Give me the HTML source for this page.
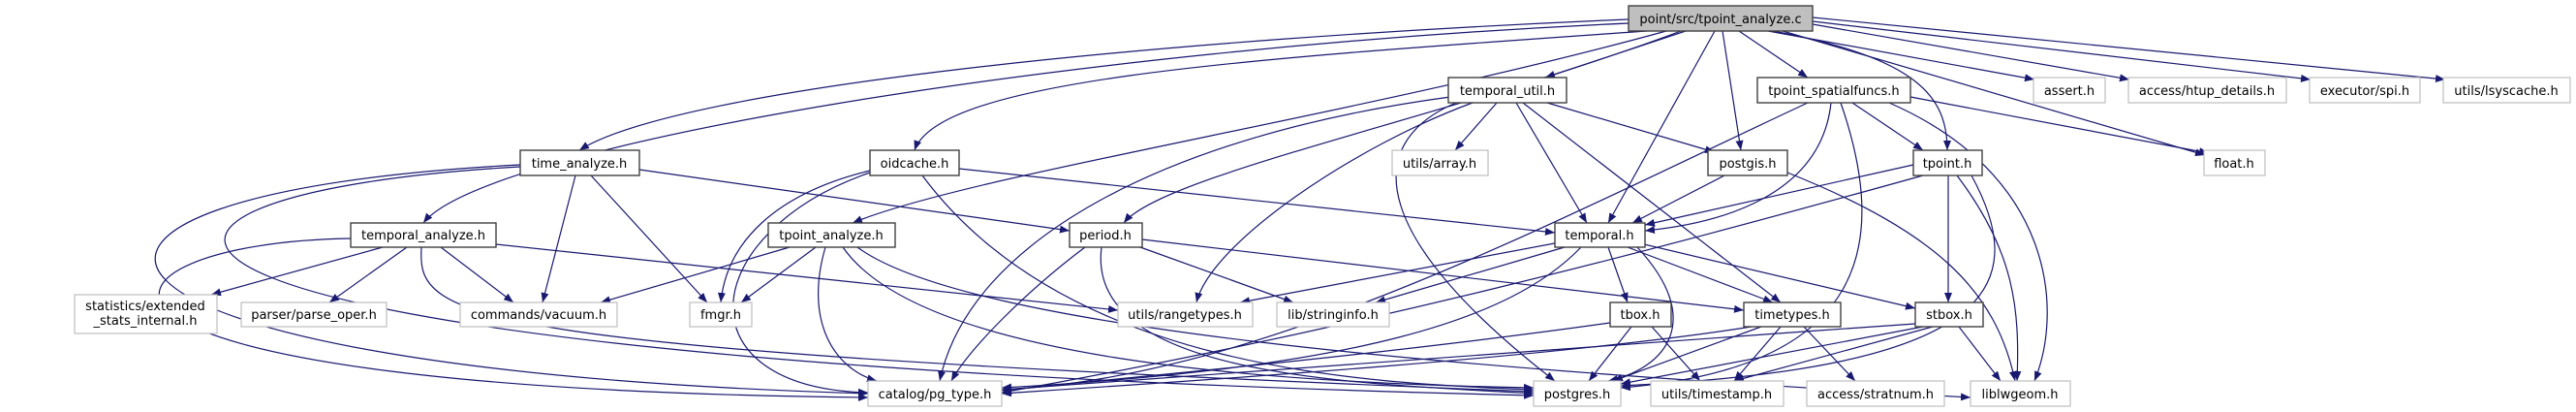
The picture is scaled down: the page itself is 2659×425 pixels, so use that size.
<!DOCTYPE html>
<html><head><meta charset="utf-8"><style>
html,body{margin:0;padding:0;background:#fff;}
svg{display:block;}
text{font-family:"DejaVu Sans","Liberation Sans",sans-serif;font-size:13px;fill:#000;text-anchor:middle;}
.e{fill:none;stroke:#191970;stroke-width:1.2;marker-end:url(#a);}
.n{fill:#fff;stroke:#404040;stroke-width:1.4;}
.x{fill:#fff;stroke:#bfbfbf;stroke-width:1.2;}
</style></head><body>
<svg width="2659" height="425" viewBox="0 0 2659 425" xmlns="http://www.w3.org/2000/svg">
<defs><marker id="a" markerUnits="userSpaceOnUse" markerWidth="11" markerHeight="9" refX="10" refY="4" orient="auto"><path d="M0,0 L10,4 L0,8 z" fill="#191970"/></marker></defs>
<g>
<path class="e" d="M1681,20 C1200,40 700,90 598,155"/>
<path class="e" d="M1681,24 C1100,50 500,150 437,230"/>
<path class="e" d="M1700,32 C1300,60 970,80 944,155"/>
<path class="e" d="M1720,32 C1400,120 1000,180 880,230"/>
<path class="e" d="M1735,32 C1500,120 1200,180 1160,230"/>
<path class="e" d="M1740,32 L1595,80"/>
<path class="e" d="M1770,32 L1660,230"/>
<path class="e" d="M1778,32 L1797,155"/>
<path class="e" d="M1795,32 L1866,80"/>
<path class="e" d="M1830,32 C1980,60 2010,100 2010,155"/>
<path class="e" d="M1825,32 L2100,82"/>
<path class="e" d="M1871,25 L2198,82"/>
<path class="e" d="M1871,22 L2385,82"/>
<path class="e" d="M1871,18 L2524,82"/>
<path class="e" d="M1840,32 L2276,160"/>
<path class="e" d="M1545,106 L1502,155"/>
<path class="e" d="M1597,106 L1770,157"/>
<path class="e" d="M1565,106 L1638,230"/>
<path class="e" d="M1572,106 L1838,312"/>
<path class="e" d="M1520,106 C1400,150 1250,250 1235,312"/>
<path class="e" d="M1503,106 C1400,150 1420,250 1605,393"/>
<path class="e" d="M1497,100 C1200,140 1000,250 970,393"/>
<path class="e" d="M1912,106 L1985,155"/>
<path class="e" d="M1890,106 C1880,200 1780,230 1698,238"/>
<path class="e" d="M1866,106 C1600,230 1300,390 1034,402"/>
<path class="e" d="M1972,100 L2280,158"/>
<path class="e" d="M1950,106 C2120,180 2130,320 2100,393"/>
<path class="e" d="M1900,106 C1950,250 1930,380 1673,400"/>
<path class="e" d="M1780,181 L1685,230"/>
<path class="e" d="M1845,178 C2000,240 2060,300 2080,393"/>
<path class="e" d="M1975,170 L1698,232"/>
<path class="e" d="M2011,181 L2011,312"/>
<path class="e" d="M2020,181 C2080,260 2085,320 2082,393"/>
<path class="e" d="M2035,181 C2100,300 2050,380 1673,398"/>
<path class="e" d="M1985,181 C1700,260 1400,340 1034,405"/>
<path class="e" d="M660,175 L1104,238"/>
<path class="e" d="M594,181 L560,312"/>
<path class="e" d="M610,181 L730,312"/>
<path class="e" d="M537,170 C-40,200 20,380 896,406"/>
<path class="e" d="M537,172 C40,200 0,370 1583,408"/>
<path class="e" d="M395,255 L218,304"/>
<path class="e" d="M420,255 L340,312"/>
<path class="e" d="M455,255 L530,312"/>
<path class="e" d="M512,252 L1154,320"/>
<path class="e" d="M362,246 C80,250 -20,400 896,410"/>
<path class="e" d="M435,255 C430,330 470,360 1583,404"/>
<path class="e" d="M990,174 L1605,240"/>
<path class="e" d="M898,176 C800,200 750,250 744,312"/>
<path class="e" d="M898,178 C720,240 700,400 896,405"/>
<path class="e" d="M952,181 C1100,380 1400,395 1583,402"/>
<path class="e" d="M815,255 L620,312"/>
<path class="e" d="M842,255 L765,312"/>
<path class="e" d="M852,255 C830,330 860,380 905,393"/>
<path class="e" d="M870,255 C950,370 1300,395 1583,400"/>
<path class="e" d="M885,255 C1000,340 1500,380 2034,410"/>
<path class="e" d="M1179,247 L1800,320"/>
<path class="e" d="M1177,255 L1335,312"/>
<path class="e" d="M1120,255 C1060,300 1000,360 982,393"/>
<path class="e" d="M1137,255 C1120,390 1400,395 1583,406"/>
<path class="e" d="M1610,250 L1280,312"/>
<path class="e" d="M1615,255 L1420,312"/>
<path class="e" d="M1660,255 L1680,312"/>
<path class="e" d="M1680,255 L1830,312"/>
<path class="e" d="M1697,252 L1977,318"/>
<path class="e" d="M1690,255 C1760,330 1720,380 1660,393"/>
<path class="e" d="M1632,255 C1560,330 1400,380 1034,400"/>
<path class="e" d="M1684,337 L1640,393"/>
<path class="e" d="M1705,337 L1755,393"/>
<path class="e" d="M1662,333 C1400,370 1100,395 1034,403"/>
<path class="e" d="M1818,337 L1665,393"/>
<path class="e" d="M1838,337 L1790,393"/>
<path class="e" d="M1862,337 L1915,393"/>
<path class="e" d="M1808,337 C1600,370 1200,395 1034,406"/>
<path class="e" d="M2022,337 L2065,393"/>
<path class="e" d="M1985,337 L1673,396"/>
<path class="e" d="M1995,337 L1790,393"/>
<path class="e" d="M1977,334 C1600,360 1200,390 1034,402"/>
</g>
<g>
<rect x="1681" y="6" width="190" height="26" fill="#bfbfbf" stroke="#404040" stroke-width="1.4"/><text x="1776" y="24">point/src/tpoint_analyze.c</text>
<rect class="n" x="1495" y="80" width="122" height="26"/><text x="1556" y="98">temporal_util.h</text>
<rect class="n" x="1814" y="80" width="158" height="26"/><text x="1893" y="98">tpoint_spatialfuncs.h</text>
<rect class="x" x="2099" y="80" width="74" height="26"/><text x="2136" y="98">assert.h</text>
<rect class="x" x="2197" y="80" width="163" height="26"/><text x="2278" y="98">access/htup_details.h</text>
<rect class="x" x="2384" y="80" width="114" height="26"/><text x="2441" y="98">executor/spi.h</text>
<rect class="x" x="2522" y="80" width="131" height="26"/><text x="2587" y="98">utils/lsyscache.h</text>
<rect class="n" x="537" y="155" width="123" height="26"/><text x="598" y="173">time_analyze.h</text>
<rect class="n" x="898" y="155" width="92" height="26"/><text x="944" y="173">oidcache.h</text>
<rect class="x" x="1437" y="155" width="99" height="26"/><text x="1486" y="173">utils/array.h</text>
<rect class="n" x="1763" y="155" width="82" height="26"/><text x="1804" y="173">postgis.h</text>
<rect class="n" x="1975" y="155" width="71" height="26"/><text x="2010" y="173">tpoint.h</text>
<rect class="x" x="2275" y="155" width="63" height="26"/><text x="2306" y="173">float.h</text>
<rect class="n" x="362" y="230" width="150" height="25"/><text x="437" y="247">temporal_analyze.h</text>
<rect class="n" x="793" y="230" width="131" height="25"/><text x="858" y="247">tpoint_analyze.h</text>
<rect class="n" x="1104" y="230" width="75" height="25"/><text x="1141" y="247">period.h</text>
<rect class="n" x="1605" y="230" width="93" height="25"/><text x="1651" y="247">temporal.h</text>
<rect class="x" x="77" y="304" width="147" height="40"/><text x="150" y="320">statistics/extended</text><text x="150" y="335">_stats_internal.h</text>
<rect class="x" x="249" y="312" width="150" height="25"/><text x="324" y="329">parser/parse_oper.h</text>
<rect class="x" x="475" y="312" width="162" height="25"/><text x="556" y="329">commands/vacuum.h</text>
<rect class="x" x="712" y="312" width="64" height="25"/><text x="744" y="329">fmgr.h</text>
<rect class="x" x="1154" y="312" width="139" height="25"/><text x="1223" y="329">utils/rangetypes.h</text>
<rect class="x" x="1318" y="312" width="116" height="25"/><text x="1376" y="329">lib/stringinfo.h</text>
<rect class="n" x="1662" y="312" width="63" height="25"/><text x="1693" y="329">tbox.h</text>
<rect class="n" x="1800" y="312" width="100" height="25"/><text x="1850" y="329">timetypes.h</text>
<rect class="n" x="1977" y="312" width="70" height="25"/><text x="2012" y="329">stbox.h</text>
<rect class="x" x="896" y="393" width="138" height="26"/><text x="965" y="411">catalog/pg_type.h</text>
<rect class="x" x="1583" y="393" width="90" height="26"/><text x="1628" y="411">postgres.h</text>
<rect class="x" x="1704" y="393" width="137" height="26"/><text x="1772" y="411">utils/timestamp.h</text>
<rect class="x" x="1865" y="393" width="142" height="26"/><text x="1936" y="411">access/stratnum.h</text>
<rect class="x" x="2034" y="393" width="103" height="26"/><text x="2085" y="411">liblwgeom.h</text>
</g>
</svg>
</body></html>
